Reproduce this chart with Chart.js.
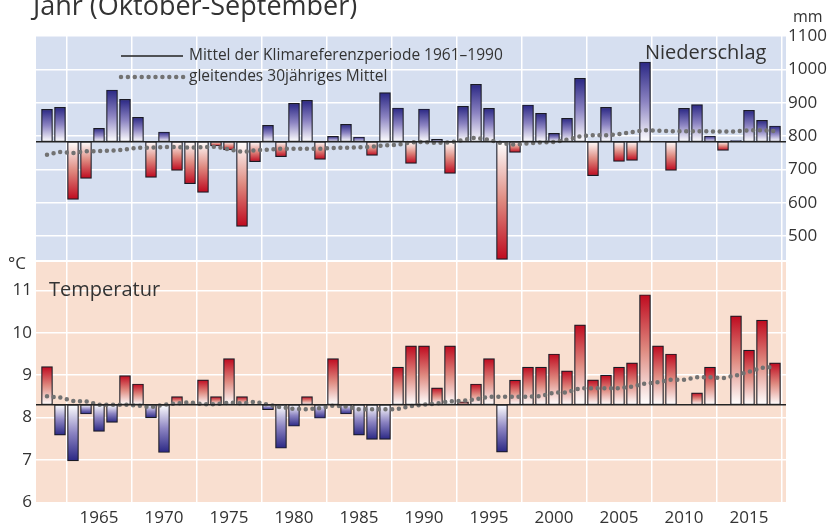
<!DOCTYPE html>
<html lang="de">
<head>
<meta charset="UTF-8" />
<title>Niederschlag und Temperatur</title>
<script src="https://cdn.jsdelivr.net/npm/chart.js@4.4.1/dist/chart.umd.min.js"></script>
<style>
  body { margin: 0; background: #fff; }
  #box { position: relative; width: 830px; height: 530px; }
</style>
</head>
<body>
<div id="box"><canvas id="myChart" width="830" height="530"></canvas></div>
<script>
// hydrologisches Jahr (Oktober-September)
var years = [1961, 1962, 1963, 1964, 1965, 1966, 1967, 1968, 1969, 1970,
  1971, 1972, 1973, 1974, 1975, 1976, 1977, 1978, 1979, 1980,
  1981, 1982, 1983, 1984, 1985, 1986, 1987, 1988, 1989, 1990,
  1991, 1992, 1993, 1994, 1995, 1996, 1997, 1998, 1999, 2000,
  2001, 2002, 2003, 2004, 2005, 2006, 2007, 2008, 2009, 2010,
  2011, 2012, 2013, 2014, 2015, 2016, 2017];

// Niederschlag in mm
var precip = [880, 886, 610, 673, 823, 938, 910, 856, 676, 812,
  697, 657, 631, 770, 758, 529, 723, 832, 738, 898,
  907, 730, 799, 835, 797, 742, 930, 884, 718, 881,
  790, 688, 889, 955, 883, 430, 751, 893, 868, 808,
  853, 973, 681, 886, 724, 727, 1022, 784, 697, 883,
  894, 800, 757, 786, 877, 847, 830];
var precipMean30 = [744, 752, 749, 754, 755, 756, 759, 765, 765, 767,
  767, 765, 767, 768, 760, 752, 757, 759, 762, 762,
  762, 762, 764, 765, 766, 768, 772, 774, 781, 782,
  779, 781, 788, 795, 788, 778, 774, 778, 781, 782,
  789, 799, 802, 802, 806, 812, 817, 816, 814, 814,
  814, 814, 813, 814, 817, 817, 815];
var precipRef = 783; // Mittel 1961-1990

// Temperatur in Grad C
var temp = [9.20, 7.58, 6.97, 8.08, 7.67, 7.88, 8.99, 8.79, 7.99, 7.17,
  8.49, 8.32, 8.89, 8.49, 9.39, 8.49, 8.31, 8.18, 7.27, 7.79,
  8.49, 7.98, 9.39, 8.08, 7.58, 7.48, 7.48, 9.19, 9.69, 9.69,
  8.70, 9.69, 8.37, 8.79, 9.39, 7.18, 8.88, 9.19, 9.19, 9.50,
  9.10, 10.19, 8.89, 9.00, 9.19, 9.29, 10.90, 9.69, 9.50, 8.31,
  8.58, 9.19, 8.31, 10.40, 9.59, 10.30, 9.29];
var tempMean30 = [8.50, 8.47, 8.39, 8.38, 8.30, 8.30, 8.30, 8.28, 8.24, 8.30,
  8.33, 8.36, 8.31, 8.31, 8.35, 8.33, 8.37, 8.30, 8.24, 8.20,
  8.19, 8.22, 8.28, 8.26, 8.19, 8.19, 8.19, 8.20, 8.27, 8.30,
  8.33, 8.38, 8.39, 8.43, 8.49, 8.49, 8.49, 8.49, 8.50, 8.59,
  8.59, 8.69, 8.69, 8.69, 8.69, 8.73, 8.80, 8.83, 8.89, 8.89,
  8.95, 8.95, 8.93, 8.99, 9.08, 9.17, 9.20];
var tempRef = 8.3;

// Achsenbeschriftungen
var yearTicks = [1965, 1970, 1975, 1980, 1985, 1990, 1995, 2000, 2005, 2010, 2015];
var precipTicks = [500, 600, 700, 800, 900, 1000, 1100];
var tempTicks = [6, 7, 8, 9, 10, 11];

var xMin = 1960.154, xMax = 2017.846;
var FONT = '"Open Sans", "Noto Sans", sans-serif';
var TXT = '#333333';

function pts(vals) {
  return years.map(function (y, i) { return { x: y, y: vals[i] }; });
}

// Verlauf je Balken: weiss an der Basis, satt am Ende
function barFill(axisId, ref, up, down) {
  return function (c) {
    if (c.type !== 'data' || !c.raw) return up[2];
    var chart = c.chart;
    var scale = chart.scales[axisId];
    var v = c.raw.y;
    var col = v >= ref ? up : down;
    if (!chart.chartArea || !scale) return col[2];
    var p0 = scale.getPixelForValue(ref);
    var p1 = scale.getPixelForValue(v);
    if (Math.abs(p1 - p0) < 1) return col[2];
    var g = chart.ctx.createLinearGradient(0, p0, 0, p1);
    g.addColorStop(0, col[0]);
    g.addColorStop(0.5, col[1]);
    g.addColorStop(1, col[2]);
    return g;
  };
}

var BLUE = ['#ffffff', '#8c84c2', '#2a2784'];
var RED = ['#ffffff', '#df8a80', '#bf0a1f'];

var panels = {
  id: 'panels',
  beforeDraw: function (chart) {
    var a = chart.chartArea, c = chart.ctx;
    var split = chart.scales.yP.getPixelForValue(425);
    c.save();
    c.fillStyle = '#d6dff0';
    c.fillRect(a.left, a.top, a.right - a.left, split - 1 - a.top);
    c.fillStyle = '#f9dfd0';
    c.fillRect(a.left, split + 1, a.right - a.left, a.bottom - split - 1);
    c.restore();
  },
  afterDraw: function (chart) {
    var c = chart.ctx;
    c.save();
    c.fillStyle = TXT;
    c.textBaseline = 'alphabetic';
    c.font = '27px ' + FONT;
    c.fillText('Jahr (Oktober-September)', 33, 15);
    c.font = '16px ' + FONT;
    c.fillText('mm', 793, 22);
    c.font = '17px ' + FONT;
    c.fillText('\u00b0C', 8, 269);
    c.font = '20px ' + FONT;
    c.fillText('Niederschlag', 645, 59);
    c.fillText('Temperatur', 49, 296);
    // Legende
    c.font = '15.5px ' + FONT;
    c.textBaseline = 'middle';
    c.fillText('Mittel der Klimareferenzperiode 1961\u20131990', 189, 56);
    c.fillText('gleitendes 30j\u00e4hriges Mittel', 189, 77);
    c.strokeStyle = '#222';
    c.lineWidth = 1.5;
    c.beginPath();
    c.moveTo(121, 56);
    c.lineTo(183, 56);
    c.stroke();
    c.strokeStyle = '#727272';
    c.lineWidth = 4.5;
    c.lineCap = 'round';
    c.setLineDash([0, 6.9]);
    c.beginPath();
    c.moveTo(121, 77);
    c.lineTo(184, 77);
    c.stroke();
    c.restore();
  }
};

function fixTicks(list) {
  return function (s) { s.ticks = list.map(function (v) { return { value: v }; }); };
}

var dotted = {
  type: 'line', borderColor: '#727272', borderWidth: 4.5, borderDash: [0, 6.7],
  borderCapStyle: 'round', pointRadius: 0, tension: 0, fill: false, order: 0
};

function lineSet(extra) { return Object.assign({}, dotted, extra); }

function plain(v) { return String(v); }

var ctx = document.getElementById('myChart').getContext('2d');
var myChart = new Chart(ctx, {
  type: 'bar',
  data: {
    datasets: [
      {
        type: 'line', label: 'Mittel Niederschlag', yAxisID: 'yP',
        data: [{ x: xMin, y: precipRef }, { x: xMax, y: precipRef }],
        borderColor: '#222', borderWidth: 1.5, pointRadius: 0, order: 0
      },
      lineSet({ label: 'gleitendes Mittel Niederschlag', yAxisID: 'yP', data: pts(precipMean30) }),
      {
        label: 'Niederschlag', yAxisID: 'yP', data: pts(precip), base: precipRef,
        backgroundColor: barFill('yP', precipRef, BLUE, RED),
        borderColor: '#1a1a24', borderWidth: 1.2, borderSkipped: false,
        barThickness: 11, grouped: false, order: 1
      },
      {
        type: 'line', label: 'Mittel Temperatur', yAxisID: 'yT',
        data: [{ x: xMin, y: tempRef }, { x: xMax, y: tempRef }],
        borderColor: '#222', borderWidth: 1.5, pointRadius: 0, order: 0
      },
      lineSet({ label: 'gleitendes Mittel Temperatur', yAxisID: 'yT', data: pts(tempMean30) }),
      {
        label: 'Temperatur', yAxisID: 'yT', data: pts(temp), base: tempRef,
        backgroundColor: barFill('yT', tempRef, RED, BLUE),
        borderColor: '#1a1a24', borderWidth: 1.2, borderSkipped: false,
        barThickness: 11, grouped: false, order: 1
      }
    ]
  },
  options: {
    responsive: false,
    animation: false,
    layout: { padding: { top: 36, left: 0, right: 0, bottom: 0 } },
    plugins: { legend: { display: false }, tooltip: { enabled: false } },
    scales: {
      x: {
        type: 'linear', min: xMin, max: xMax, offset: false,
        afterBuildTicks: fixTicks(yearTicks),
        afterFit: function (s) { s.height = 28; },
        grid: { color: '#ffffff', lineWidth: 1.5, drawTicks: false },
        border: { display: false },
        ticks: {
          autoSkip: false, maxRotation: 0, padding: 6, color: TXT,
          font: { family: FONT, size: 17 }, callback: plain
        }
      },
      yT: {
        position: 'left', min: 6, max: 17.017,
        afterBuildTicks: fixTicks(tempTicks),
        afterFit: function (s) { s.width = 36; },
        grid: {
          lineWidth: 1.5, drawTicks: false,
          color: function (c) { return c.tick && c.tick.value > 6 ? '#ffffff' : 'rgba(0,0,0,0)'; }
        },
        border: { display: false },
        ticks: { autoSkip: false, padding: 4, color: TXT, font: { family: FONT, size: 17 }, callback: plain }
      },
      yP: {
        position: 'right', min: -298, max: 1100,
        afterBuildTicks: fixTicks(precipTicks),
        afterFit: function (s) { s.width = 44; },
        grid: { color: '#ffffff', lineWidth: 1.5, drawTicks: false },
        border: { display: false },
        ticks: { autoSkip: false, padding: 2, color: TXT, font: { family: FONT, size: 17 }, callback: plain }
      }
    }
  },
  plugins: [panels]
});
</script>
</body>
</html>
